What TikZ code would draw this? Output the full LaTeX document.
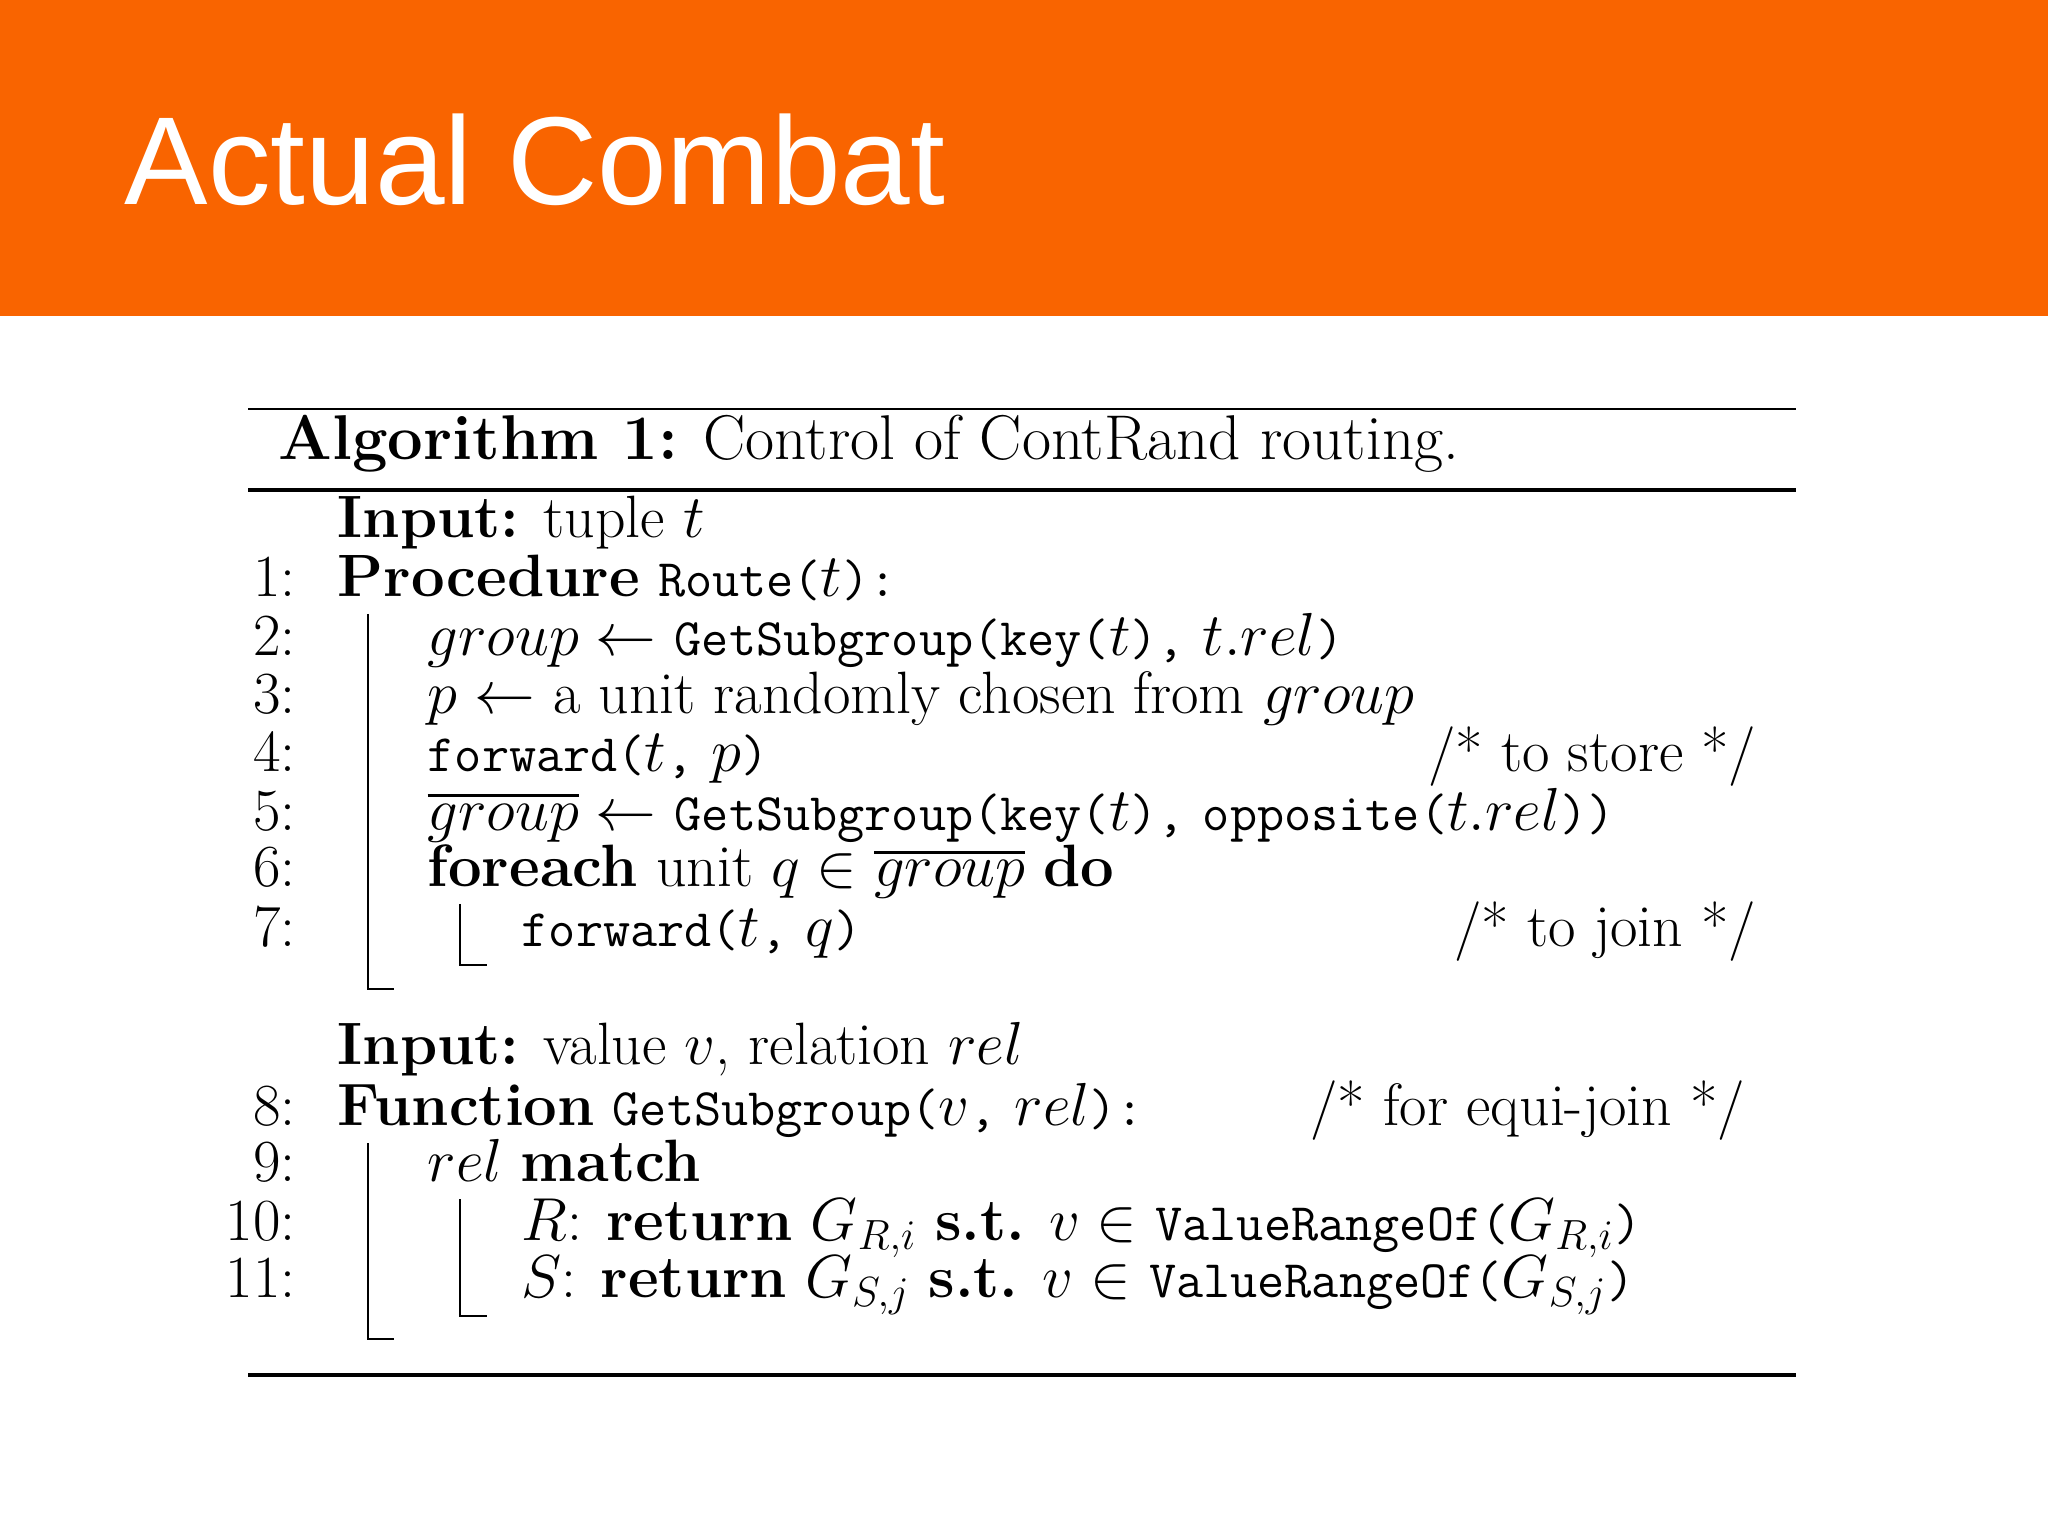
\documentclass[tikz,border=0pt]{standalone}
\usepackage{fontspec}
\newfontfamily\titlefont{Liberation Sans}
\usepackage{amsmath}
\definecolor{band}{HTML}{F96400}
\tikzset{
  ln/.style={anchor=base east,font=\fontsize{17}{19}\selectfont},
  tx/.style={anchor=base west,font=\fontsize{17}{19}\selectfont,inner sep=0pt},
  cmt/.style={anchor=base east,font=\fontsize{17}{19}\selectfont,inner sep=0pt},
  bar/.style={line width=0.7pt}
}
\newcommand{\kw}[1]{\textbf{#1}}
\newcommand{\fn}[1]{{\fontsize{15}{18}\selectfont\texttt{#1}}}
\begin{document}
\begin{tikzpicture}[x=1cm,y=1cm]
\useasboundingbox (0,0) rectangle (20.48,-15.36);
\fill[band] (0,0) rectangle (20.48,-3.16);
\node[anchor=base west,inner sep=0pt,text=white,font=\titlefont\fontsize{35.6}{40}\selectfont] (title) at (1.24,-2.05) {Actual Combat};
% rules
\draw[line width=0.5pt] (2.48,-4.09) -- (17.96,-4.09);
\draw[line width=1.3pt] (2.48,-4.90) -- (17.96,-4.90);
\draw[line width=1.3pt] (2.48,-13.75) -- (17.96,-13.75);
\node[tx,font=\fontsize{18}{20}\selectfont] (cap) at (2.78,-4.60) {\kw{Algorithm 1:} Control of ContRand routing.};
% lines
\node[tx] (in1) at (3.37,-5.38) {\kw{Input:} tuple $t$};
\node[ln] (n1) at (3.08,-5.97) {1:};
\node[tx] (l1) at (3.37,-5.97) {\kw{Procedure} \fn{Route(}$t$\fn{):}};
\node[ln] (n2) at (3.08,-6.56) {2:};
\node[tx] (l2) at (4.27,-6.56) {$group \leftarrow$ \fn{GetSubgroup(key(}$t$\fn{),} $t.rel$\fn{)}};
\node[ln] (n3) at (3.08,-7.13) {3:};
\node[tx] (l3) at (4.27,-7.13) {$p \leftarrow$ a unit randomly chosen from $group$};
\node[ln] (n4) at (3.08,-7.72) {4:};
\node[tx] (l4) at (4.27,-7.72) {\fn{forward(}$t$\fn{,} $p$\fn{)}};
\node[cmt] (c4) at (17.57,-7.72) {/* to store */};
\node[ln] (n5) at (3.08,-8.30) {5:};
\node[tx] (l5) at (4.27,-8.30) {$\overline{group} \leftarrow$ \fn{GetSubgroup(key(}$t$\fn{),} \fn{opposite(}$t.rel$\fn{))}};
\node[ln] (n6) at (3.08,-8.87) {6:};
\node[tx] (l6) at (4.27,-8.87) {\kw{foreach} unit $q \in \overline{group}$ \kw{do}};
\node[ln] (n7) at (3.08,-9.46) {7:};
\node[tx] (l7) at (5.21,-9.46) {\fn{forward(}$t$\fn{,} $q$\fn{)}};
\node[cmt] (c7) at (17.57,-9.46) {/* to join */};
\node[tx] (in2) at (3.37,-10.65) {\kw{Input:} value $v$, relation $rel$};
\node[ln] (n8) at (3.08,-11.25) {8:};
\node[tx] (l8) at (3.37,-11.25) {\kw{Function} \fn{GetSubgroup(}$v$\fn{,} $rel$\fn{):}};
\node[cmt] (c8) at (17.46,-11.25) {/* for equi-join */};
\node[ln] (n9) at (3.08,-11.81) {9:};
\node[tx] (l9) at (4.27,-11.81) {$rel$ \kw{match}};
\node[ln] (n10) at (3.08,-12.40) {10:};
\node[tx] (l10) at (5.21,-12.40) {$R$: \kw{return} $G_{R,i}$ \kw{s.t.} $v \in$ \fn{ValueRangeOf(}$G_{R,i}$\fn{)}};
\node[ln] (n11) at (3.08,-12.97) {11:};
\node[tx] (l11) at (5.21,-12.97) {$S$: \kw{return} $G_{S,j}$ \kw{s.t.} $v \in$ \fn{ValueRangeOf(}$G_{S,j}$\fn{)}};
% block bars
\draw[bar] (3.68,-6.14) -- (3.68,-9.89) -- (3.94,-9.89);
\draw[bar] (4.60,-9.04) -- (4.60,-9.65) -- (4.87,-9.65);
\draw[bar] (3.68,-11.43) -- (3.68,-13.39) -- (3.94,-13.39);
\draw[bar] (4.60,-11.99) -- (4.60,-13.16) -- (4.87,-13.16);
\end{tikzpicture}
\end{document}
